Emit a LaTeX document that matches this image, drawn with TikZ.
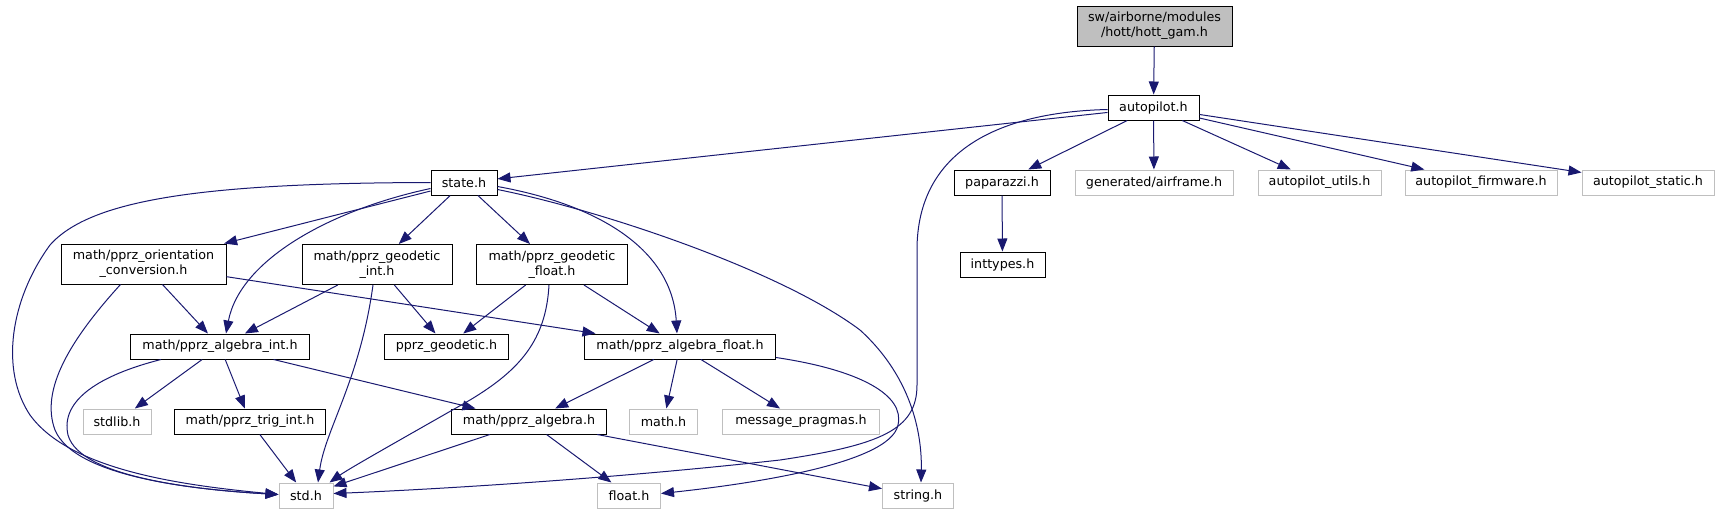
\documentclass[tikz,border=0pt]{standalone}
\usepackage{fontspec}
\setmainfont{DejaVu Sans}
\usetikzlibrary{arrows.meta,calc}
\definecolor{edgecol}{HTML}{191970}
\definecolor{extgrey}{HTML}{BFBFBF}
\begin{document}
\begin{tikzpicture}[x=1pt,y=-1pt,
  box/.style={draw=black, line width=1pt, fill=white, inner sep=0pt, minimum height=25pt,
    font=\fontsize{12.7}{15}\selectfont, align=center},
  ext/.style={box, draw=extgrey},
  hl/.style={box, fill=extgrey, minimum height=40pt},
  two/.style={minimum height=40pt},
  e/.style={draw=edgecol, line width=1pt, -{Triangle[length=13pt,width=10pt]}}]
\useasboundingbox (0,0) rectangle (1719,515);

% nodes
\node[hl, minimum width=155pt] (hott) at (1154.5,26) {sw/airborne/modules\\/hott/hott\_gam.h};
\node[box, minimum width=91pt] (autopilot) at (1153.5,107.5) {autopilot.h};
\node[box, minimum width=66pt] (state) at (464,182.5) {state.h};
\node[box, minimum width=96pt] (paparazzi) at (1002,182.5) {paparazzi.h};
\node[ext, minimum width=158pt] (airframe) at (1154,182.5) {generated/airframe.h};
\node[ext, minimum width=123pt] (utils) at (1319.5,182.5) {autopilot\_utils.h};
\node[ext, minimum width=152pt] (firmware) at (1481,182.5) {autopilot\_firmware.h};
\node[ext, minimum width=132pt] (static) at (1648,182.5) {autopilot\_static.h};
\node[box, two, minimum width=165pt] (orient) at (143.5,264) {math/pprz\_orientation\\\_conversion.h};
\node[box, two, minimum width=150pt] (gint) at (377,264.5) {math/pprz\_geodetic\\\_int.h};
\node[box, two, minimum width=151pt] (gfloat) at (552,264.5) {math/pprz\_geodetic\\\_float.h};
\node[box, minimum width=85pt] (inttypes) at (1002.5,264.5) {inttypes.h};
\node[box, minimum width=179pt] (algint) at (220,346.5) {math/pprz\_algebra\_int.h};
\node[box, minimum width=124pt] (pgeod) at (446.5,346.5) {pprz\_geodetic.h};
\node[box, minimum width=191pt] (algfloat) at (680,346.5) {math/pprz\_algebra\_float.h};
\node[ext, minimum width=68pt] (stdlib) at (117,421.5) {stdlib.h};
\node[box, minimum width=151pt] (trig) at (250,421.5) {math/pprz\_trig\_int.h};
\node[box, minimum width=155pt] (alg) at (529,421.5) {math/pprz\_algebra.h};
\node[ext, minimum width=68pt] (mathh) at (663.5,421.5) {math.h};
\node[ext, minimum width=157pt] (msg) at (801,421.5) {message\_pragmas.h};
\node[ext, minimum width=54pt] (std) at (306,495.5) {std.h};
\node[ext, minimum width=63pt] (float) at (629,495.5) {float.h};
\node[ext, minimum width=71pt] (string) at (918,495.5) {string.h};

% edges from hott / autopilot
\draw[e] (hott) -- (autopilot);
\draw[e] (autopilot) -- (state);
\draw[e] ($(autopilot.west)+(0,2)$) .. controls (1000,112) and (917,150) .. (917,250)
   -- (917,385) .. controls (917,430) and (880,445) .. (780,460)
   .. controls (600,480) and (420,490) .. ($(std.east)+(0,-2)$);
\draw[e] (autopilot) -- (paparazzi);
\draw[e] (autopilot) -- (airframe);
\draw[e] (autopilot) -- (utils);
\draw[e] (autopilot) -- (firmware);
\draw[e] (autopilot) -- (static);
\draw[e] (paparazzi) -- (inttypes);

% edges from state
\draw[e] (state.west) .. controls (200,183) and (90,200) .. (50,245)
   .. controls (10,300) and (0,370) .. (30,415)
   .. controls (70,470) and (180,485) .. ($(std.west)+(0,-1)$);
\draw[e] (state) -- (orient);
\draw[e] ($(state.west)+(0,6)$) .. controls (330,210) and (240,260) .. ($(algint.north)+(6,0)$);
\draw[e] (state) -- (gint);
\draw[e] (state) -- (gfloat);
\draw[e] ($(state.east)+(0,4)$) .. controls (600,205) and (672,250) .. ($(algfloat.north)+(-3,0)$);
\draw[e] ($(state.east)+(0,7)$) .. controls (600,210) and (780,270) .. (860,330)
   .. controls (915,380) and (922,440) .. ($(string.north)+(3,0)$);

% orientation
\draw[e] (orient) -- (algint);
\draw[e] ($(orient.south)+(-23,0)$) .. controls (70,340) and (40,390) .. (55,430)
   .. controls (75,478) and (200,490) .. ($(std.west)+(0,-1)$);
\draw[e] (orient) -- (algfloat);

% geodetic int
\draw[e] (gint) -- (algint);
\draw[e] (gint) -- (pgeod);
\draw[e] ($(gint.south)+(-4,0)$) .. controls (360,380) and (325,430) .. ($(std.north)+(12,0)$);

% geodetic float
\draw[e] (gfloat) -- (pgeod);
\draw[e] (gfloat) -- (algfloat);
\draw[e] ($(gfloat.south)+(-3,0)$) .. controls (546,340) and (520,370) .. (470,400)
   .. controls (400,440) and (350,468) .. ($(std.north east)+(-4,0)$);

% algebra int
\draw[e] ($(algint.south west)+(31,0)$) .. controls (100,375) and (60,400) .. (68,435)
   .. controls (80,478) and (200,490) .. ($(std.west)+(0,-1)$);
\draw[e] (algint) -- (stdlib);
\draw[e] (algint) -- (trig);
\draw[e] (algint) -- (alg);

% trig
\draw[e] (trig) -- (std);

% algebra float
\draw[e] (algfloat) -- (alg);
\draw[e] (algfloat) -- (mathh);
\draw[e] (algfloat) -- (msg);
\draw[e] ($(algfloat.south east)+(0,-2)$) .. controls (860,370) and (905,395) .. (898,425)
   .. controls (890,465) and (740,485) .. ($(float.east)+(0,-2)$);

% algebra
\draw[e] (alg) -- (std);
\draw[e] (alg) -- (float);
\draw[e] (alg) -- (string);
\end{tikzpicture}
\end{document}
